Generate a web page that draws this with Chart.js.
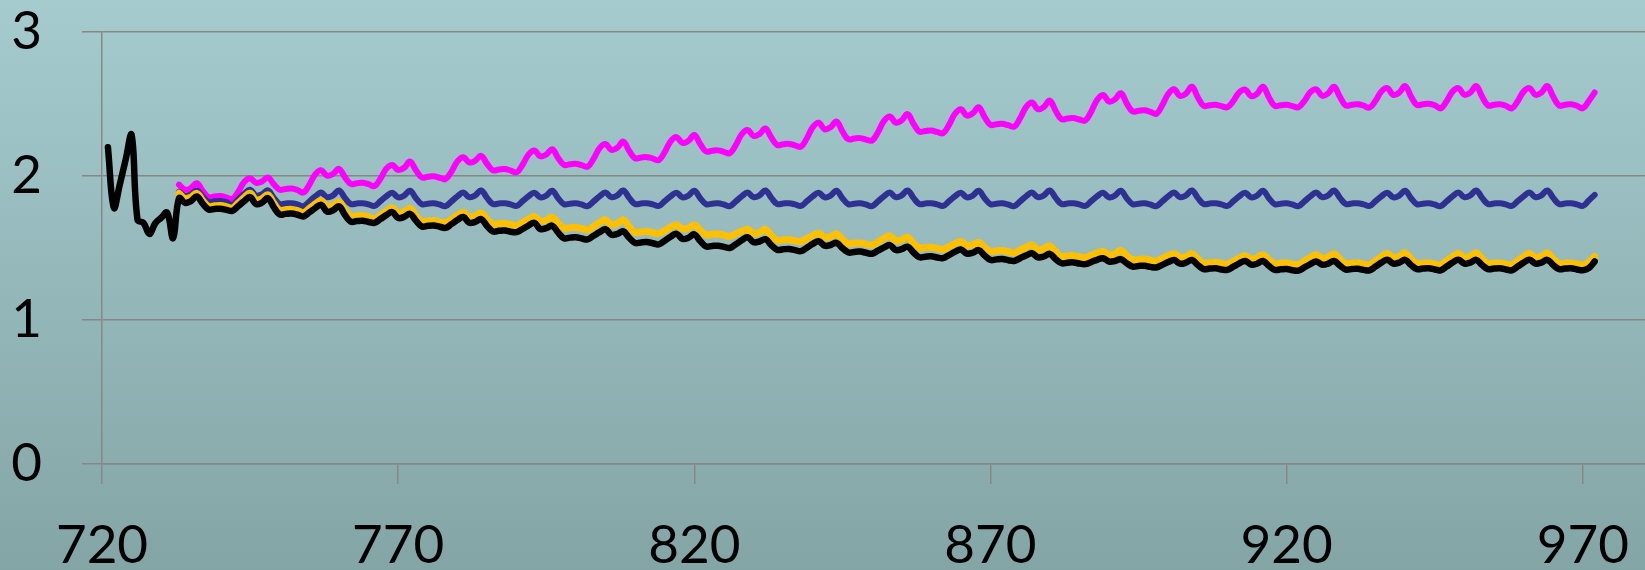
<!DOCTYPE html>
<html>
<head>
<meta charset="utf-8">
<script src="https://cdn.jsdelivr.net/npm/chart.js@4.4.1/dist/chart.umd.min.js"></script>
<style>
  html, body { margin: 0; padding: 0; }
  #chart { display: block; }
</style>
</head>
<body>
<canvas id="chart" width="1645" height="570"></canvas>
<script>
// x is a plain integer index (one point per step); black starts earlier than the rest
const blackStart = 721
const seriesStart = 733

const xTicks = [720, 770, 820, 870, 920, 970]
const yTicks = [0, 1, 2, 3]

// 721..732, then 733..972
const blackValues = [
  2.200, 1.780, 1.940, 2.115, 2.285, 1.695, 1.675, 1.598, 1.672, 1.710, 1.746, 1.568,
  1.846, 1.814, 1.825, 1.858, 1.808, 1.767, 1.771, 1.773, 1.765, 1.758, 1.791, 1.826,
  1.853, 1.805, 1.815, 1.846, 1.784, 1.733, 1.737, 1.739, 1.731, 1.719, 1.747, 1.777,
  1.800, 1.753, 1.762, 1.790, 1.731, 1.683, 1.687, 1.689, 1.681, 1.675, 1.701, 1.728,
  1.749, 1.709, 1.716, 1.738, 1.690, 1.650, 1.654, 1.656, 1.648, 1.640, 1.666, 1.694,
  1.715, 1.675, 1.681, 1.700, 1.653, 1.615, 1.619, 1.621, 1.613, 1.610, 1.632, 1.656,
  1.674, 1.632, 1.638, 1.655, 1.607, 1.568, 1.572, 1.574, 1.566, 1.560, 1.585, 1.610,
  1.630, 1.592, 1.598, 1.615, 1.571, 1.535, 1.539, 1.541, 1.533, 1.525, 1.551, 1.578,
  1.598, 1.563, 1.571, 1.595, 1.548, 1.510, 1.514, 1.516, 1.508, 1.500, 1.526, 1.554,
  1.575, 1.540, 1.545, 1.561, 1.520, 1.487, 1.491, 1.493, 1.485, 1.478, 1.502, 1.528,
  1.547, 1.516, 1.521, 1.536, 1.499, 1.469, 1.473, 1.475, 1.467, 1.460, 1.481, 1.503,
  1.520, 1.486, 1.492, 1.509, 1.469, 1.436, 1.440, 1.442, 1.434, 1.430, 1.451, 1.473,
  1.490, 1.461, 1.467, 1.485, 1.448, 1.417, 1.421, 1.423, 1.415, 1.410, 1.429, 1.448,
  1.463, 1.435, 1.441, 1.459, 1.423, 1.394, 1.398, 1.400, 1.392, 1.388, 1.402, 1.418,
  1.429, 1.406, 1.410, 1.422, 1.394, 1.371, 1.375, 1.377, 1.369, 1.365, 1.383, 1.402,
  1.417, 1.391, 1.398, 1.417, 1.382, 1.353, 1.357, 1.359, 1.351, 1.348, 1.370, 1.393,
  1.410, 1.385, 1.391, 1.410, 1.376, 1.348, 1.352, 1.354, 1.346, 1.343, 1.365, 1.388,
  1.406, 1.384, 1.391, 1.410, 1.377, 1.350, 1.354, 1.356, 1.348, 1.345, 1.371, 1.398,
  1.418, 1.392, 1.399, 1.418, 1.382, 1.353, 1.357, 1.359, 1.351, 1.345, 1.371, 1.398,
  1.418, 1.392, 1.399, 1.418, 1.382, 1.353, 1.357, 1.359, 1.351, 1.345, 1.371, 1.398,
  1.418, 1.392, 1.399, 1.418, 1.382, 1.353, 1.357, 1.359, 1.351, 1.345, 1.360, 1.406,
]

// 733..972
const magentaValues = [
  1.940, 1.905, 1.916, 1.950, 1.897, 1.853, 1.858, 1.861, 1.851, 1.840, 1.891, 1.959,
  1.985, 1.953, 1.962, 1.990, 1.943, 1.905, 1.910, 1.913, 1.903, 1.885, 1.939, 2.012,
  2.040, 2.002, 2.014, 2.050, 1.992, 1.945, 1.950, 1.953, 1.943, 1.930, 1.981, 2.051,
  2.077, 2.042, 2.057, 2.100, 2.040, 1.990, 1.995, 1.998, 1.988, 1.978, 2.031, 2.102,
  2.130, 2.094, 2.106, 2.140, 2.085, 2.040, 2.045, 2.048, 2.038, 2.025, 2.078, 2.149,
  2.177, 2.137, 2.149, 2.186, 2.126, 2.077, 2.082, 2.085, 2.075, 2.065, 2.120, 2.193,
  2.222, 2.182, 2.196, 2.239, 2.175, 2.123, 2.128, 2.131, 2.121, 2.110, 2.166, 2.240,
  2.270, 2.230, 2.244, 2.285, 2.222, 2.170, 2.175, 2.178, 2.168, 2.158, 2.215, 2.290,
  2.320, 2.278, 2.291, 2.330, 2.267, 2.215, 2.220, 2.223, 2.213, 2.204, 2.262, 2.339,
  2.370, 2.324, 2.338, 2.378, 2.310, 2.255, 2.260, 2.263, 2.253, 2.246, 2.304, 2.381,
  2.413, 2.371, 2.386, 2.430, 2.363, 2.308, 2.313, 2.316, 2.306, 2.297, 2.355, 2.432,
  2.464, 2.420, 2.435, 2.478, 2.410, 2.355, 2.360, 2.363, 2.353, 2.343, 2.401, 2.478,
  2.510, 2.464, 2.479, 2.524, 2.453, 2.394, 2.399, 2.402, 2.392, 2.385, 2.447, 2.528,
  2.563, 2.517, 2.532, 2.575, 2.505, 2.448, 2.453, 2.456, 2.446, 2.432, 2.492, 2.569,
  2.602, 2.556, 2.572, 2.620, 2.547, 2.487, 2.492, 2.495, 2.485, 2.478, 2.521, 2.581,
  2.600, 2.555, 2.571, 2.620, 2.547, 2.487, 2.492, 2.495, 2.485, 2.478, 2.521, 2.582,
  2.602, 2.557, 2.573, 2.620, 2.549, 2.490, 2.495, 2.498, 2.488, 2.475, 2.522, 2.587,
  2.610, 2.563, 2.579, 2.625, 2.552, 2.493, 2.498, 2.501, 2.491, 2.470, 2.519, 2.586,
  2.610, 2.564, 2.579, 2.625, 2.551, 2.490, 2.495, 2.498, 2.488, 2.470, 2.519, 2.586,
  2.610, 2.564, 2.579, 2.625, 2.551, 2.490, 2.495, 2.498, 2.488, 2.470, 2.520, 2.580,
]

const navyValues = [
  1.890, 1.862, 1.872, 1.900, 1.856, 1.820, 1.824, 1.826, 1.818, 1.800, 1.837, 1.876,
  1.905, 1.865, 1.874, 1.900, 1.848, 1.805, 1.809, 1.811, 1.803, 1.790, 1.823, 1.858,
  1.885, 1.853, 1.865, 1.900, 1.848, 1.805, 1.809, 1.811, 1.803, 1.792, 1.825, 1.859,
  1.883, 1.852, 1.864, 1.898, 1.846, 1.804, 1.808, 1.810, 1.802, 1.791, 1.824, 1.858,
  1.885, 1.853, 1.865, 1.900, 1.848, 1.805, 1.809, 1.811, 1.803, 1.792, 1.825, 1.859,
  1.883, 1.852, 1.864, 1.898, 1.846, 1.804, 1.808, 1.810, 1.802, 1.791, 1.824, 1.858,
  1.885, 1.853, 1.865, 1.900, 1.848, 1.805, 1.809, 1.811, 1.803, 1.792, 1.825, 1.859,
  1.883, 1.852, 1.864, 1.898, 1.846, 1.804, 1.808, 1.810, 1.802, 1.791, 1.824, 1.858,
  1.885, 1.853, 1.865, 1.900, 1.848, 1.805, 1.809, 1.811, 1.803, 1.792, 1.825, 1.859,
  1.883, 1.852, 1.864, 1.898, 1.846, 1.804, 1.808, 1.810, 1.802, 1.791, 1.824, 1.858,
  1.885, 1.853, 1.865, 1.900, 1.848, 1.805, 1.809, 1.811, 1.803, 1.792, 1.825, 1.859,
  1.883, 1.852, 1.864, 1.898, 1.846, 1.804, 1.808, 1.810, 1.802, 1.791, 1.824, 1.858,
  1.885, 1.853, 1.865, 1.900, 1.848, 1.805, 1.809, 1.811, 1.803, 1.792, 1.825, 1.859,
  1.883, 1.852, 1.864, 1.898, 1.846, 1.804, 1.808, 1.810, 1.802, 1.791, 1.824, 1.858,
  1.885, 1.853, 1.865, 1.900, 1.848, 1.805, 1.809, 1.811, 1.803, 1.792, 1.825, 1.859,
  1.883, 1.852, 1.864, 1.898, 1.846, 1.804, 1.808, 1.810, 1.802, 1.791, 1.824, 1.858,
  1.885, 1.853, 1.865, 1.900, 1.848, 1.805, 1.809, 1.811, 1.803, 1.792, 1.825, 1.859,
  1.883, 1.852, 1.864, 1.898, 1.846, 1.804, 1.808, 1.810, 1.802, 1.791, 1.824, 1.858,
  1.885, 1.853, 1.865, 1.900, 1.848, 1.805, 1.809, 1.811, 1.803, 1.792, 1.825, 1.859,
  1.885, 1.853, 1.865, 1.900, 1.848, 1.805, 1.809, 1.811, 1.803, 1.792, 1.830, 1.869,
]

const goldValues = [
  1.880, 1.844, 1.853, 1.880, 1.830, 1.789, 1.793, 1.795, 1.787, 1.777, 1.813, 1.851,
  1.880, 1.833, 1.842, 1.870, 1.811, 1.762, 1.766, 1.768, 1.760, 1.746, 1.775, 1.806,
  1.830, 1.786, 1.795, 1.820, 1.764, 1.719, 1.723, 1.725, 1.717, 1.700, 1.728, 1.758,
  1.780, 1.741, 1.750, 1.775, 1.724, 1.683, 1.687, 1.689, 1.681, 1.675, 1.700, 1.727,
  1.747, 1.714, 1.721, 1.743, 1.700, 1.665, 1.669, 1.671, 1.663, 1.655, 1.677, 1.701,
  1.719, 1.686, 1.693, 1.715, 1.672, 1.637, 1.641, 1.643, 1.635, 1.625, 1.650, 1.676,
  1.696, 1.661, 1.670, 1.696, 1.648, 1.608, 1.612, 1.614, 1.606, 1.600, 1.621, 1.643,
  1.660, 1.632, 1.639, 1.660, 1.622, 1.591, 1.595, 1.597, 1.589, 1.580, 1.598, 1.616,
  1.630, 1.599, 1.607, 1.630, 1.587, 1.552, 1.556, 1.558, 1.550, 1.545, 1.565, 1.586,
  1.602, 1.573, 1.579, 1.598, 1.560, 1.529, 1.533, 1.535, 1.527, 1.520, 1.542, 1.566,
  1.584, 1.550, 1.556, 1.575, 1.533, 1.499, 1.503, 1.505, 1.497, 1.490, 1.509, 1.530,
  1.545, 1.517, 1.522, 1.538, 1.504, 1.476, 1.480, 1.482, 1.474, 1.466, 1.485, 1.505,
  1.520, 1.488, 1.495, 1.515, 1.474, 1.441, 1.445, 1.447, 1.439, 1.435, 1.449, 1.465,
  1.476, 1.452, 1.460, 1.483, 1.447, 1.417, 1.421, 1.423, 1.415, 1.410, 1.428, 1.446,
  1.460, 1.434, 1.441, 1.460, 1.424, 1.394, 1.398, 1.400, 1.392, 1.388, 1.408, 1.430,
  1.446, 1.424, 1.431, 1.453, 1.418, 1.390, 1.394, 1.396, 1.388, 1.385, 1.409, 1.434,
  1.453, 1.428, 1.436, 1.460, 1.422, 1.390, 1.394, 1.396, 1.388, 1.383, 1.411, 1.440,
  1.462, 1.433, 1.441, 1.466, 1.424, 1.390, 1.394, 1.396, 1.388, 1.383, 1.411, 1.440,
  1.462, 1.433, 1.441, 1.466, 1.424, 1.390, 1.394, 1.396, 1.388, 1.383, 1.411, 1.440,
  1.462, 1.433, 1.441, 1.466, 1.424, 1.390, 1.394, 1.396, 1.388, 1.383, 1.400, 1.441,
]

const GRID = '#878787'
const FONT = { family: 'Lato, "Open Sans", sans-serif', size: 53 }

const toPoints = (values, start) => values.map((y, i) => ({ x: start + i, y }))

// slide-style teal gradient behind everything
const backdrop = {
  id: 'backdrop',
  beforeDraw(chart) {
    const { ctx, width, height } = chart
    const g = ctx.createLinearGradient(0, 0, 0, height)
    g.addColorStop(0, '#a5cbce')
    g.addColorStop(1, '#84a5a6')
    ctx.save()
    ctx.fillStyle = g
    ctx.fillRect(0, 0, width, height)
    ctx.restore()
  },
}

const line = (values, start, color, width, order) => ({
  data: toPoints(values, start),
  borderColor: color,
  borderWidth: width,
  pointRadius: 0,
  tension: 0.4,
  borderJoinStyle: 'round',
  borderCapStyle: 'round',
  fill: false,
  order,
})

// fixed axis boxes so the plot area lands where the original has it
const fixBox = (w, h) => s => {
  if (w != null) s.width = w
  if (h != null) s.height = h
  s.paddingTop = 0
  s.paddingBottom = 0
  s.paddingLeft = 0
  s.paddingRight = 0
}

new Chart(document.getElementById('chart'), {
  type: 'line',
  data: {
    datasets: [
      line(magentaValues, seriesStart, '#ff00ff', 6, 3),
      line(navyValues, seriesStart, '#2e3192', 6, 2),
      line(goldValues, seriesStart, '#ffc000', 7, 1),
      line(blackValues, blackStart, '#000000', 6.5, 0),
    ],
  },
  options: {
    responsive: false,
    animation: false,
    layout: { padding: { top: 32, left: 0, right: 0, bottom: 0 } },
    plugins: {
      legend: { display: false },
      tooltip: { enabled: false },
    },
    scales: {
      x: {
        type: 'linear',
        min: 720,
        max: 980.5,
        afterBuildTicks: s => { s.ticks = xTicks.map(v => ({ value: v })) },
        afterFit: fixBox(null, 106),
        grid: { drawOnChartArea: false, tickLength: 20, color: GRID, lineWidth: 1.5 },
        border: { color: GRID, width: 1.5 },
        ticks: { font: FONT, color: '#000', padding: 30, maxRotation: 0, autoSkip: false },
      },
      y: {
        min: 0,
        max: 3,
        afterBuildTicks: s => { s.ticks = yTicks.map(v => ({ value: v })) },
        afterFit: fixBox(102, null),
        grid: { tickLength: 20, color: GRID, lineWidth: 1.5 },
        border: { color: GRID, width: 1.5 },
        ticks: { font: FONT, color: '#000', padding: 40 },
      },
    },
  },
  plugins: [backdrop],
})
</script>
</body>
</html>
